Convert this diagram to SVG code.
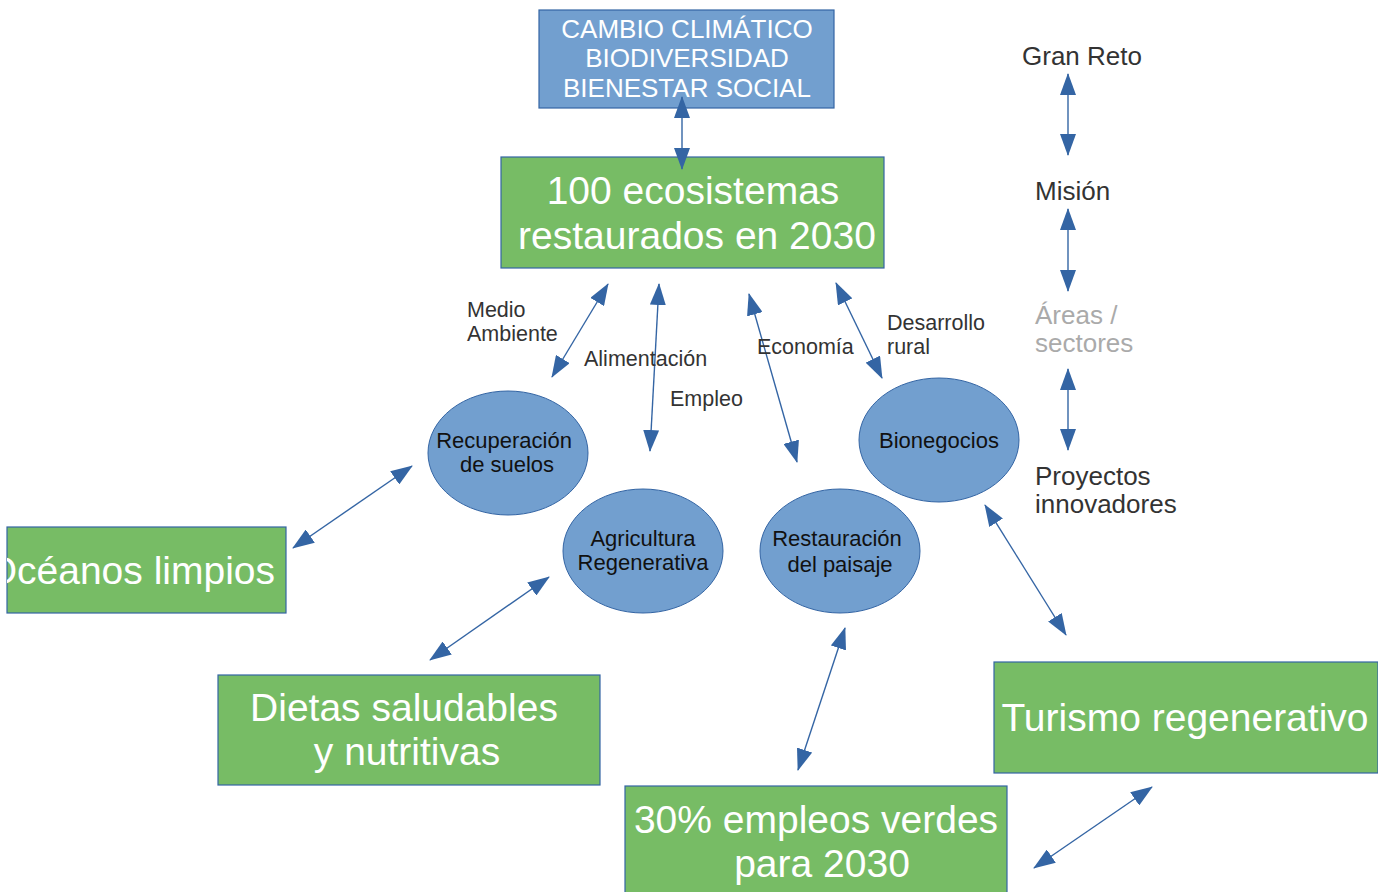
<svg xmlns="http://www.w3.org/2000/svg" width="1378" height="892" viewBox="0 0 1378 892">
<style>
.blue{fill:#729fcf;stroke:#3465a4;stroke-width:1.2}
.green{fill:#77bc65;stroke:#3465a4;stroke-width:1.2}
.ell{fill:#729fcf;stroke:#3465a4;stroke-width:1}
.wt{fill:#ffffff;font-family:"Liberation Sans",Arial,sans-serif;text-anchor:middle}
.et{fill:#111111;font-family:"Liberation Sans",Arial,sans-serif;font-size:22px;text-anchor:middle}
.lb{fill:#333333;font-family:"Liberation Sans",Arial,sans-serif;font-size:21.5px}
.lg{fill:#333333;font-family:"Liberation Sans",Arial,sans-serif;font-size:26px}
.conn line{stroke:#3465a4;stroke-width:1.4;marker-start:url(#ah);marker-end:url(#ah)}
</style>
<defs>
<marker id="ah" markerUnits="userSpaceOnUse" markerWidth="22" markerHeight="16" viewBox="0 0 22 16" refX="21" refY="8" orient="auto-start-reverse">
<path d="M0,0 L22,8 L0,16 z" fill="#3465a4"/>
</marker>
<clipPath id="clipOce"><rect x="7" y="527" width="279" height="86"/></clipPath>
</defs>
<rect width="1378" height="892" fill="#ffffff"/>

<g id="reto">
<rect class="blue" x="539" y="10" width="295" height="98"/>
<text class="wt" font-size="26" x="687" y="38">CAMBIO CLIMÁTICO</text>
<text class="wt" font-size="26" x="687" y="67">BIODIVERSIDAD</text>
<text class="wt" font-size="26" x="687" y="97">BIENESTAR SOCIAL</text>
</g>

<g id="mision">
<rect class="green" x="501" y="157" width="383" height="111"/>
<text class="wt" font-size="39" x="693" y="204">100 ecosistemas</text>
<text class="wt" font-size="39" x="697" y="249">restaurados en 2030</text>
</g>

<g id="suelos">
<ellipse class="ell" cx="508" cy="453" rx="80" ry="62"/>
<text class="et" x="504" y="448">Recuperación</text>
<text class="et" x="507" y="472">de suelos</text>
</g>
<g id="agricultura">
<ellipse class="ell" cx="643" cy="551" rx="80" ry="62"/>
<text class="et" x="643" y="546">Agricultura</text>
<text class="et" x="643" y="570">Regenerativa</text>
</g>
<g id="paisaje">
<ellipse class="ell" cx="840" cy="551" rx="80" ry="62"/>
<text class="et" x="837" y="546">Restauración</text>
<text class="et" x="840" y="572">del paisaje</text>
</g>
<g id="bionegocios">
<ellipse class="ell" cx="939" cy="440" rx="80" ry="62"/>
<text class="et" x="939" y="448">Bionegocios</text>
</g>

<g id="oceanos">
<rect class="green" x="7" y="527" width="279" height="86"/>
<text class="wt" font-size="39" x="275" y="584" style="text-anchor:end" clip-path="url(#clipOce)">Océanos limpios</text>
</g>
<g id="dietas">
<rect class="green" x="218" y="675" width="382" height="110"/>
<text class="wt" font-size="39" x="404" y="721">Dietas saludables</text>
<text class="wt" font-size="39" x="407" y="765">y nutritivas</text>
</g>
<g id="empleos">
<rect class="green" x="625" y="786" width="382" height="110"/>
<text class="wt" font-size="39" x="816" y="833">30% empleos verdes</text>
<text class="wt" font-size="39" x="822" y="877">para 2030</text>
</g>
<g id="turismo">
<rect class="green" x="994" y="662" width="384" height="111"/>
<text class="wt" font-size="39" x="1185" y="731">Turismo regenerativo</text>
</g>

<g class="conn">
<line x1="682" y1="97" x2="682" y2="169"/>
<line x1="608" y1="284" x2="552" y2="377"/>
<line x1="659" y1="284" x2="650" y2="451"/>
<line x1="749" y1="294" x2="797" y2="462"/>
<line x1="836" y1="283" x2="882" y2="378"/>
<line x1="412" y1="466" x2="293" y2="548"/>
<line x1="549" y1="577" x2="430" y2="660"/>
<line x1="845" y1="628" x2="798" y2="770"/>
<line x1="985" y1="505" x2="1066" y2="635"/>
<line x1="1152" y1="787" x2="1034" y2="868"/>
<line x1="1068" y1="74" x2="1068" y2="155"/>
<line x1="1068" y1="209" x2="1068" y2="291"/>
<line x1="1068" y1="369" x2="1068" y2="450"/>
</g>

<g id="labels">
<text class="lb" x="467" y="317">Medio</text>
<text class="lb" x="467" y="341">Ambiente</text>
<text class="lb" x="584" y="366">Alimentación</text>
<text class="lb" x="670" y="406">Empleo</text>
<text class="lb" x="757" y="354">Economía</text>
<text class="lb" x="887" y="330">Desarrollo</text>
<text class="lb" x="887" y="354">rural</text>
</g>

<g id="leyenda">
<text class="lg" x="1022" y="65">Gran Reto</text>
<text class="lg" x="1035" y="200">Misión</text>
<text class="lg" x="1035" y="324" style="fill:#aaaaaa">Áreas /</text>
<text class="lg" x="1035" y="352" style="fill:#aaaaaa">sectores</text>
<text class="lg" x="1035" y="485">Proyectos</text>
<text class="lg" x="1035" y="513">innovadores</text>
</g>
</svg>
